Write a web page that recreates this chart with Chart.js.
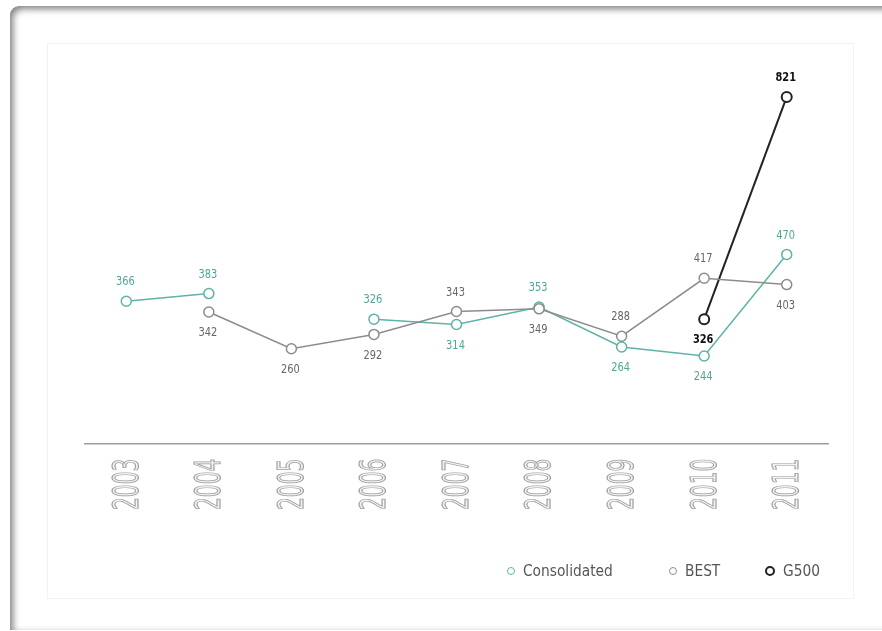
<!DOCTYPE html>
<html>
<head>
<meta charset="utf-8">
<script src="https://cdn.jsdelivr.net/npm/chart.js@4.4.1/dist/chart.umd.min.js"></script>
<style>
    html, body { margin: 0; padding: 0; background: #fff; }
    body { width: 882px; height: 631px; position: relative; overflow: hidden; font-family: "DejaVu Sans", sans-serif; }
    .panel {
        position: absolute; left: 10px; top: 6px; width: 900px; height: 624px;
        border-top-left-radius: 9px; background: #fff;
        box-shadow: inset 3px 3px 7px rgba(0,0,0,0.5);
    }
    .inner {
        position: absolute; left: 47px; top: 43px; width: 805px; height: 554px;
        border: 1px solid #f2f2f2;
    }
    #chart { position: absolute; left: 0; top: 0; }
    .legend { position: absolute; top: 561px; left: 0; font-size: 16px; color: #555; }
    .legend span.item { position: absolute; white-space: nowrap; display: flex; align-items: center; }
    .legend i { display: inline-block; width: 6px; height: 6px; border-radius: 50%; border: 1.5px solid; margin-right: 8px; }
    .legend b { font-weight: normal; display: inline-block; transform: scaleX(0.86); transform-origin: left center; }
</style>
</head>
<body>
<div class="panel"></div>
<div class="inner"></div>
<canvas id="chart" width="882" height="631"></canvas>
<div class="legend" id="legend"></div>
<script>
// Data
const years = ['2003', '2004', '2005', '2006', '2007', '2008', '2009', '2010', '2011'];
const consolidated = [366, 383, null, 326, 314, 353, 264, 244, 470];
const best = [null, 342, 260, 292, 343, 349, 288, 417, 403];
const g500 = [null, null, null, null, null, null, null, 326, 821];
const seriesNames = ['Consolidated', 'BEST', 'G500'];

const TEAL = '#5db3a7';
const GREY = '#8c8c8c';
const BLACK = '#222222';

// value labels next to the points
const valueLabels = {
    id: 'valueLabels',
    afterDatasetsDraw(chart) {
        const ctx = chart.ctx;
        chart.data.datasets.forEach(function(ds, di) {
            const meta = chart.getDatasetMeta(di);
            meta.data.forEach(function(pt, i) {
                const v = ds.data[i];
                if (v === null) return;
                const pos = ds.labelPos[i];
                ctx.save();
                ctx.translate(pt.x - 1, pt.y + (pos === 'up' ? -19 : 21));
                ctx.scale(0.82, 1);
                ctx.font = (ds.labelBold ? 'bold ' : '') + '12px "DejaVu Sans", sans-serif';
                ctx.fillStyle = ds.labelColor;
                ctx.textAlign = 'center';
                ctx.textBaseline = 'middle';
                ctx.fillText(String(v), 0, 0);
                ctx.restore();
            });
        });
    }
};

// tall condensed outlined year labels
const yearLabels = {
    id: 'yearLabels',
    afterDraw(chart) {
        const ctx = chart.ctx;
        const xs = chart.scales.x;
        years.forEach(function(label, i) {
            const x = xs.getPixelForTick(i);
            ctx.save();
            ctx.translate(x + 1, 510);
            ctx.rotate(-Math.PI / 2);
            ctx.scale(0.56, 1);
            ctx.font = '36px "DejaVu Sans", sans-serif';
            ctx.textAlign = 'left';
            ctx.textBaseline = 'middle';
            ctx.fillStyle = '#f3f3f3';
            ctx.fillText(label, 0, 1);
            ctx.lineWidth = 1.2;
            ctx.strokeStyle = '#a0a0a0';
            ctx.strokeText(label, 0, 1);
            ctx.restore();
        });
    }
};

function lineSet(label, data, color, width, labelColor, labelPos, bold) {
    return {
        label: label,
        data: data,
        borderColor: color,
        borderWidth: width,
        pointRadius: 5,
        pointBorderWidth: bold ? 2 : 1.5,
        pointBackgroundColor: '#ffffff',
        pointBorderColor: color,
        tension: 0,
        spanGaps: false,
        labelColor: labelColor,
        labelPos: labelPos,
        labelBold: bold
    };
}

new Chart(document.getElementById('chart'), {
    type: 'line',
    data: {
        labels: years,
        datasets: [
            lineSet(seriesNames[1], best, GREY, 1.5, '#666666',
                ['', 'down', 'down', 'down', 'up', 'down', 'up', 'up', 'down'], false),
            lineSet(seriesNames[0], consolidated, TEAL, 1.5, '#4ea598',
                ['up', 'up', '', 'up', 'down', 'up', 'down', 'down', 'up'], false),
            lineSet(seriesNames[2], g500, BLACK, 2, '#111111',
                ['', '', '', '', '', '', '', 'down', 'up'], true)
        ]
    },
    options: {
        responsive: false,
        animation: false,
        layout: { padding: { left: 85, right: 54, top: 65, bottom: 179 } },
        plugins: {
            legend: { display: false },
            tooltip: { enabled: false }
        },
        scales: {
            x: {
                offset: true,
                grid: { display: false },
                border: { display: true, color: '#9e9e9e', width: 1.5 },
                ticks: { display: false }
            },
            y: {
                display: false,
                min: 48,
                max: 892
            }
        }
    },
    plugins: [valueLabels, yearLabels]
});

// legend
const legendEl = document.getElementById('legend');
const legendItems = [
    { name: seriesNames[0], color: TEAL, left: 507 },
    { name: seriesNames[1], color: GREY, left: 669 },
    { name: seriesNames[2], color: BLACK, left: 765 }
];
legendItems.forEach(function(item) {
    const span = document.createElement('span');
    span.className = 'item';
    span.style.left = item.left + 'px';
    const dot = document.createElement('i');
    dot.style.borderColor = item.color;
    if (item.name === 'G500') dot.style.borderWidth = '2px';
    const txt = document.createElement('b');
    txt.textContent = item.name;
    span.appendChild(dot);
    span.appendChild(txt);
    legendEl.appendChild(span);
});
</script>
</body>
</html>
